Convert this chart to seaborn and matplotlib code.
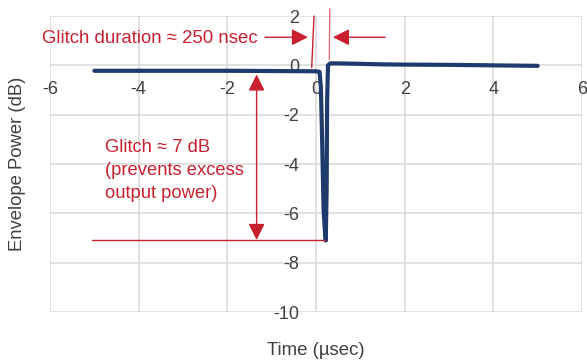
import numpy as np
import pandas as pd
import matplotlib
matplotlib.use('Agg')
import matplotlib.pyplot as plt
import seaborn as sns

# data
time_us = [-5.0, -4.0, -3.0, -2.0, -1.0, 0.0, 0.08, 0.11, 0.14, 0.17, 0.20, 0.22,
           0.24, 0.25, 0.27, 0.32, 0.5, 1.0, 1.5, 2.0, 3.0, 4.0, 5.0]
power_db = [-0.22, -0.22, -0.22, -0.22, -0.23, -0.24, -0.26, -0.9, -3.2, -5.8, -6.7, -7.1,
            -5.0, -1.5, 0.0, 0.08, 0.08, 0.06, 0.04, 0.03, 0.02, 0.0, -0.02]
x_ticks = [-6, -4, -2, 0, 2, 4, 6]
y_ticks = [2, 0, -2, -4, -6, -8, -10]

duration_text = 'Glitch duration \u2248 250 nsec'
depth_text = 'Glitch \u2248 7 dB\n(prevents excess\noutput power)'
glitch_depth = -7.08
glitch_marker_x = -1.34

red = '#c8202f'
navy = '#1f3a6d'
grey_txt = '#404040'

sns.set_style('white')
plt.rcParams['font.family'] = ['Liberation Sans', 'DejaVu Sans']
plt.rcParams['axes.unicode_minus'] = False

df = pd.DataFrame({'Time': time_us, 'Power': power_db})

fig = plt.figure(figsize=(5.87, 3.6), dpi=100)
ax = fig.add_axes([0.0852, 0.1333, 0.9063, 0.8222])

# grid
ax.set_xlim(-6, 6)
ax.set_ylim(-10, 2)
ax.set_xticks(x_ticks)
ax.set_yticks(y_ticks)
ax.grid(True, color='#d9d9d9', lw=1.1)
ax.set_axisbelow(True)
for s in ax.spines.values():
    s.set_visible(False)
ax.spines['left'].set_position(('data', 0))
ax.spines['bottom'].set_position(('data', 0))
ax.tick_params(length=0, labelsize=13, labelcolor=grey_txt)
ax.tick_params(axis='x', pad=11)
ax.tick_params(axis='y', pad=12)

# main curve
sns.lineplot(data=df, x='Time', y='Power', ax=ax, color=navy, lw=3,
             solid_joinstyle='round', solid_capstyle='round')

ax.set_xlabel('Time (\u00b5sec)', fontsize=13.4, color=grey_txt)
ax.set_ylabel('Envelope Power (dB)', fontsize=13.3, color=grey_txt)
ax.xaxis.set_label_coords(0.5, -0.102)
ax.yaxis.set_label_coords(-0.045, 0.5)

# annotations
head = dict(arrowstyle='-|>,head_length=0.4,head_width=0.2', mutation_scale=25,
            color=red, lw=1, shrinkA=0, shrinkB=0)
ax.text(-6.18, 1.08, duration_text, color=red, fontsize=13.4, ha='left', va='center')
ax.annotate('', xy=(-0.18, 1.14), xytext=(-1.15, 1.14), arrowprops=head,
            annotation_clip=False)
ax.annotate('', xy=(0.38, 1.14), xytext=(1.56, 1.14), arrowprops=head,
            annotation_clip=False)
ax.plot([-0.045, -0.097], [2.0, -0.09], color=red, lw=1, clip_on=False)
ax.plot([0.31, 0.30], [2.28, 0.24], color='#e0707a', lw=1, clip_on=False)

dbl = dict(head, arrowstyle='<|-|>,head_length=0.4,head_width=0.2')
ax.annotate('', xy=(glitch_marker_x, -0.37), xytext=(glitch_marker_x, glitch_depth),
            arrowprops=dbl)
ax.plot([-5.05, 0.2], [glitch_depth, glitch_depth], color=red, lw=1)
ax.text(-4.76, -3.0, depth_text, color=red, fontsize=13.2, ha='left', va='top',
        linespacing=1.45)

plt.savefig('out.png', dpi=100)
